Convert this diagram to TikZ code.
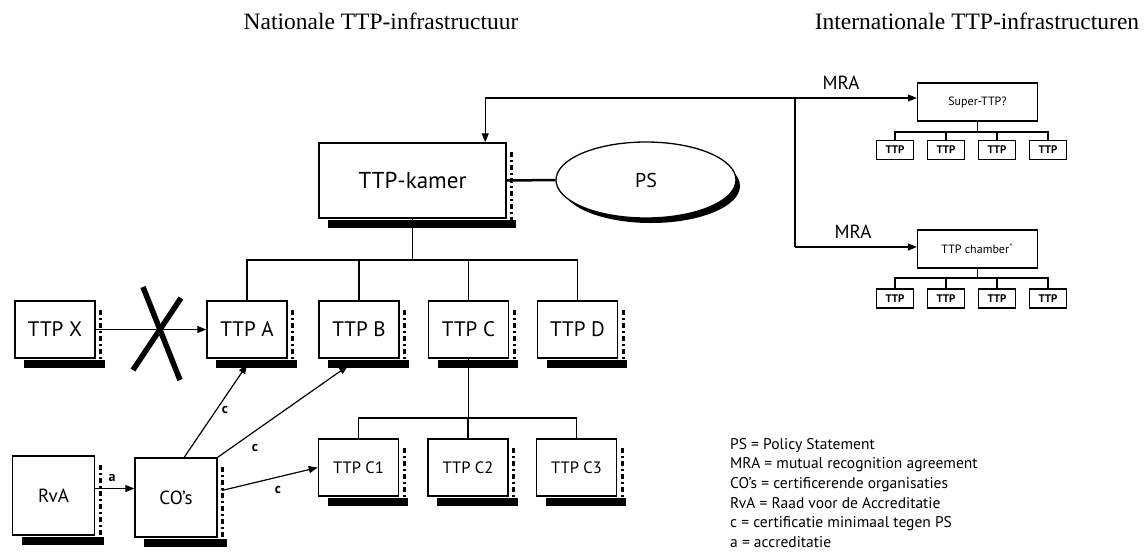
\documentclass[tikz,border=0pt]{standalone}
\usepackage{fontspec}
\setmainfont{PT Sans}
\newfontfamily\titlefont{Liberation Serif}
\usetikzlibrary{arrows.meta,shapes.geometric,calc}
\newcommand{\boxshadow}[1]{%
  \fill ([xshift=10pt,yshift=-1pt]#1.south west) rectangle ([xshift=9pt,yshift=-9pt]#1.south east);
  \draw[line width=3pt, dash pattern=on 5pt off 3pt on 2pt off 3pt] ([xshift=5pt,yshift=-10pt]#1.north east) -- ([xshift=5pt,yshift=-1pt]#1.south east);
}
\begin{document}
\begin{tikzpicture}[x=1pt,y=-1pt,
  box/.style={draw, line width=1.5pt, fill=white, minimum width=80pt, minimum height=57pt, inner sep=0pt, font=\fontsize{21}{24}\selectfont},
  cbox/.style={box, font=\fontsize{16.5}{19}\selectfont},
  bigbox/.style={box, minimum width=82pt, minimum height=79pt, font=\fontsize{19}{22}\selectfont},
  sbox/.style={draw, line width=1.3pt, fill=white, minimum width=120pt, minimum height=38pt, inner sep=0pt, font=\fontsize{12}{14}\selectfont},
  tbox/.style={draw, line width=1.3pt, fill=white, minimum width=37pt, minimum height=19pt, inner sep=0pt, font=\bfseries\fontsize{11}{13}\selectfont},
  conn/.style={line width=1.2pt},
  arr/.style={conn, -{Triangle[length=9pt,width=7pt]}},
  lbl/.style={inner sep=0pt, font=\fontsize{19}{22}\selectfont},
  clbl/.style={inner sep=0pt, font=\bfseries\fontsize{14}{16}\selectfont},
  ttl/.style={inner sep=0pt, font=\titlefont\fontsize{23.5}{27}\selectfont},
]
\useasboundingbox (0,0) rectangle (1144,555);

% titles
\node[ttl] (t1) at (381,21) {Nationale TTP-infrastructuur};
\node[ttl] (t2) at (977,21) {Internationale TTP-infrastructuren};

% TTP-kamer and PS
\node[box, minimum width=187pt, minimum height=75pt, font=\fontsize{23}{26}\selectfont] (kamer) at (412.5,180.5) {TTP-kamer};
\boxshadow{kamer}
\fill (651,186) ellipse [x radius=89pt, y radius=37pt];
\node[ellipse, draw, line width=1.3pt, fill=white, minimum width=180pt, minimum height=76pt, inner sep=0pt, font=\fontsize{20}{24}\selectfont] (ps) at (646,180) {PS};
\draw[line width=2.5pt] (kamer.east) -- (ps.west);

% international part
\node[sbox] (super) at (977.5,102) {Super-TTP?};
\node[sbox] (chamber) at (977.5,249) {TTP chamber\textsuperscript{\textasciicircum}};
\coordinate (j1) at (795,98);
\coordinate (j2) at (795,247);
\draw[arr] (j1) -| ($(kamer.north west)+(167,0)$);
\draw[arr] (j1) -- (j1 -| super.west);
\draw[conn] (j1) -- (j2);
\draw[arr] (j2) -- (j2 -| chamber.west);
\node[lbl] (mra1) at (841,83) {MRA};
\node[lbl] (mra2) at (853,232) {MRA};

\foreach \i/\x in {1/895,2/946,3/997,4/1048} {
  \node[tbox] (s\i) at (\x,150) {TTP};
  \node[tbox] (h\i) at (\x,298.5) {TTP};
}
\coordinate (sj) at (0,132);
\coordinate (hj) at (0,278);
\draw[conn] (super.south) -- (super.south |- sj);
\draw[conn] (s1.north) |- (s4.north |- sj) -- (s4.north);
\draw[conn] (s2.north) -- (s2.north |- sj);
\draw[conn] (s3.north) -- (s3.north |- sj);
\draw[conn] (chamber.south) -- (chamber.south |- hj);
\draw[conn] (h1.north) |- (h4.north |- hj) -- (h4.north);
\draw[conn] (h2.north) -- (h2.north |- hj);
\draw[conn] (h3.north) -- (h3.north |- hj);

% national row 1
\node[box] (ttpx) at (55,329.5) {TTP X};
\node[box] (ttpa) at (247,329.5) {TTP A};
\node[box] (ttpb) at (359,329.5) {TTP B};
\node[box] (ttpc) at (468.5,329.5) {TTP C};
\node[box] (ttpd) at (577.5,329.5) {TTP D};
\foreach \n in {ttpx,ttpa,ttpb,ttpc,ttpd} {\boxshadow{\n}}

% row 2
\node[cbox] (c1) at (358.5,467.5) {TTP C1};
\node[cbox] (c2) at (468,467.5) {TTP C2};
\node[cbox] (c3) at (576.5,467.5) {TTP C3};
\node[bigbox] (rva) at (53.5,495.5) {RvA};
\node[bigbox] (cos) at (176,497.5) {CO's};
\foreach \n in {c1,c2,c3,rva,cos} {\boxshadow{\n}}

% tree
\coordinate (hy) at (0,260);
\draw[conn] (kamer.south) -- (kamer.south |- hy);
\draw[conn] (ttpa.north) |- (ttpd.north |- hy) -- (ttpd.north);
\draw[conn] (ttpb.north) -- (ttpb.north |- hy);
\draw[conn] (ttpc.north) -- (ttpc.north |- hy);
\coordinate (hy2) at (0,418);
\draw[conn] (ttpc.south) -- (ttpc.south |- hy2);
\draw[conn] (c1.north) |- (c3.north |- hy2) -- (c3.north);
\draw[conn] (c2.north) -- (c2.north |- hy2);

% arrows
\draw[arr] (ttpx.east) -- (ttpa.west);
\draw[line width=5.5pt] (143,287) -- (180,380);
\draw[line width=5.5pt] (181,298) -- (133,370);
\draw[arr] ($(rva.east)+(0,-7)$) -- ($(cos.west)+(0,-9)$);
\node[clbl] (la) at (112,478) {a};
\draw[arr] ($(cos.north west)+(50,0)$) -- ($(ttpa.south)+(0,6)$);
\draw[arr] (cos.north east) -- ($(ttpb.south)+(-11,7)$);
\draw[arr] ($(cos.east)+(4,-7)$) -- (c1.west);
\node[clbl] (lc1) at (225,410) {c};
\node[clbl] (lc2) at (255,448) {c};
\node[clbl] (lc3) at (278,490) {c};

% legend
\node[anchor=north west, align=left, inner sep=0pt, font=\fontsize{15.5}{19.6}\selectfont] (legend) at (730,438) {PS = Policy Statement\\
MRA = mutual recognition agreement\\
CO's = certificerende organisaties\\
RvA = Raad voor de Accreditatie\\
c = certificatie minimaal tegen PS\\
a = accreditatie};
\end{tikzpicture}
\end{document}
